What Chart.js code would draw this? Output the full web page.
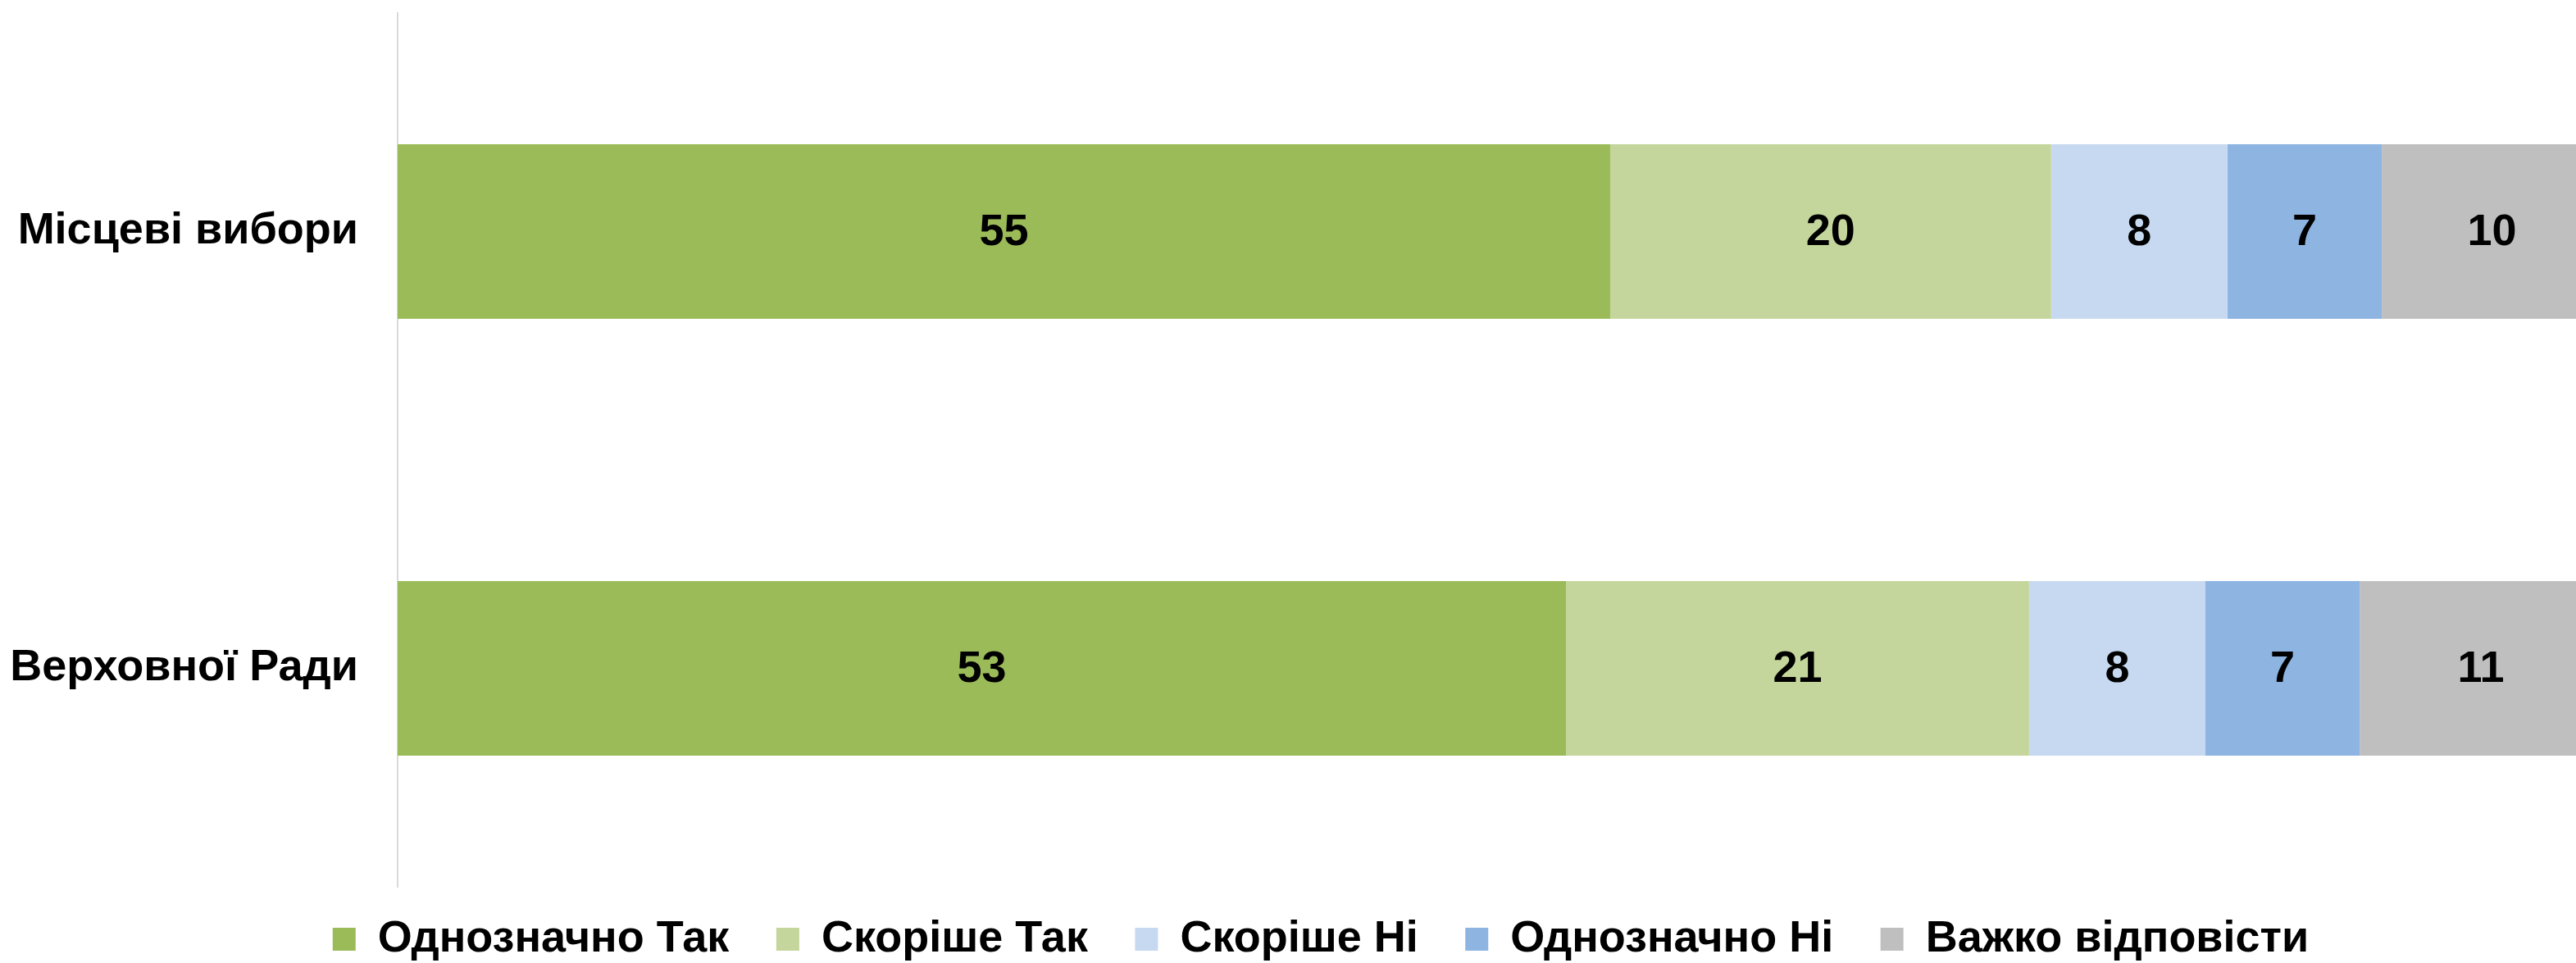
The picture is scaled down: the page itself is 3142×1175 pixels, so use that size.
<!DOCTYPE html>
<html>
<head>
<meta charset="utf-8">
<script src="https://cdn.jsdelivr.net/npm/chart.js@4"></script>
<style>
  html, body { margin: 0; padding: 0; background: #ffffff; overflow: hidden; width: 3142px; height: 1175px; }
  #wrap { position: absolute; left: 0; top: 0; width: 3174px; height: 1175px; }
  canvas { display: block; }
</style>
</head>
<body>
<div id="wrap"><canvas id="c" width="3174" height="1175"></canvas></div>
<script>
const categories = ['Місцеві вибори', 'Верховної Ради'];
const seriesNames = ['Однозначно Так', 'Скоріше Так', 'Скоріше Ні', 'Однозначно Ні', 'Важко відповісти'];
const definitelyYes = [55, 53];
const probablyYes = [20, 21];
const probablyNo = [8, 8];
const definitelyNo = [7, 7];
const hardToSay = [10, 11];
const seriesColors = ['#9BBB59', '#C4D69B', '#C6D9F0', '#8EB4E2', '#BFBFBF'];

const FONT = "'Liberation Sans', Arial, sans-serif";
const FS = 54;
const seriesValues = [definitelyYes, probablyYes, probablyNo, definitelyNo, hardToSay];

const datasets = seriesNames.map((name, i) => ({
  label: name,
  data: seriesValues[i],
  backgroundColor: seriesColors[i],
  borderColor: seriesColors[i],
  borderWidth: 0,
  categoryPercentage: 0.4,
  barPercentage: 1.0
}));

const valueLabels = {
  id: 'valueLabels',
  afterDatasetsDraw(chart) {
    const ctx = chart.ctx;
    ctx.save();
    ctx.font = 'bold ' + FS + 'px ' + FONT;
    ctx.fillStyle = '#000000';
    ctx.textAlign = 'center';
    ctx.textBaseline = 'middle';
    chart.data.datasets.forEach((ds, di) => {
      const meta = chart.getDatasetMeta(di);
      meta.data.forEach((el, i) => {
        const p = el.getProps(['x', 'y', 'base'], true);
        ctx.fillText(String(ds.data[i]), (p.x + p.base) / 2, p.y + 2);
      });
    });
    ctx.restore();
  }
};

// place the legend row where the reference has it
const legendShift = {
  id: 'legendShift',
  afterLayout(chart) {
    const lg = chart.legend;
    if (!lg) return;
    lg.top -= 20.5; lg.bottom -= 20.5;
    lg.left += 24; lg.right += 24;
  }
};

new Chart(document.getElementById('c'), {
  type: 'bar',
  data: { labels: categories, datasets },
  options: {
    indexAxis: 'y',
    responsive: false,
    animation: false,
    devicePixelRatio: 1,
    layout: { padding: { top: 16, bottom: -28.5, left: 0, right: 0 } },
    scales: {
      x: { stacked: true, min: 0, max: 100, display: false },
      y: {
        stacked: true,
        grid: { display: true, drawOnChartArea: false, drawTicks: false, color: 'rgba(0,0,0,0)' },
        border: { display: true, color: '#D9D9D9', width: 2 },
        ticks: { padding: 48, color: '#000000', font: { family: FONT, size: FS, weight: 'bold' } },
        afterFit(scale) {
          scale.width = 485;
          scale.paddingTop = 0;
          scale.paddingBottom = 0;
        }
      }
    },
    plugins: {
      tooltip: { enabled: false },
      legend: {
        position: 'bottom',
        labels: {
          color: '#000000',
          boxWidth: 28,
          boxHeight: 28,
          padding: 57.5,
          font: { family: FONT, size: FS, weight: 'bold' }
        }
      }
    }
  },
  plugins: [valueLabels, legendShift]
});
</script>
</body>
</html>
